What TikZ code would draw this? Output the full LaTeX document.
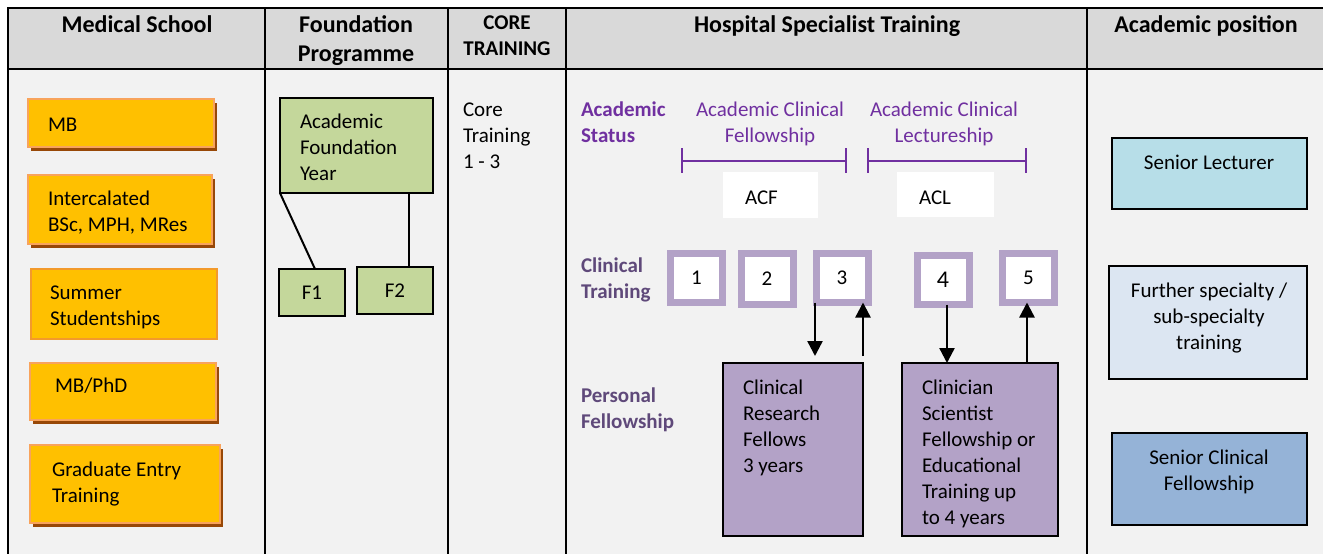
\documentclass[tikz,border=0pt]{standalone}
\usepackage{fontspec}
\setmainfont{Carlito}
\usetikzlibrary{arrows.meta,shadows}
\definecolor{hdr}{HTML}{D9D9D9}
\definecolor{bodyc}{HTML}{F2F2F2}
\definecolor{orangef}{HTML}{FFC000}
\definecolor{orangeb}{HTML}{F8A35C}
\definecolor{orangebb}{HTML}{F39A2B}
\definecolor{shadowc}{HTML}{984807}
\definecolor{greenf}{HTML}{C4D79B}
\definecolor{purpt}{HTML}{7030A0}
\definecolor{purpg}{HTML}{5F497A}
\definecolor{lilac}{HTML}{B3A2C7}
\definecolor{bluea}{HTML}{B7DEE8}
\definecolor{blueb}{HTML}{DCE6F2}
\definecolor{bluec}{HTML}{95B3D7}
\newcommand\bodyfont{\fontsize{21}{26}\selectfont}
\newcommand\headfont{\fontsize{24}{29.5}\selectfont\bfseries}
\newcommand\mlines[1]{\begin{tabular}[t]{@{}l@{}}#1\end{tabular}}
\newcommand\mcent[1]{\begin{tabular}[t]{@{}c@{}}#1\end{tabular}}
\begin{document}
\begin{tikzpicture}[x=1pt,y=-1pt,
  grid/.style={line width=2.2pt,black},
  txt/.style={inner sep=0pt,outer sep=0pt,font=\bodyfont,text=black},
  head/.style={inner sep=0pt,outer sep=0pt,font=\headfont,text=black,anchor=base},
  lab/.style={inner sep=0pt,outer sep=0pt,font=\bodyfont\bfseries,anchor=base west},
  obox/.style={rectangle,inner sep=0pt,outer sep=0pt,fill=orangef,draw=orangeb,line width=2.5pt},
  oshadow/.style={drop shadow={shadow xshift=3pt,shadow yshift=-4pt,fill=shadowc,opacity=1}},
  gbox/.style={rectangle,inner sep=0pt,outer sep=0pt,fill=greenf,draw=black,line width=2pt,font=\bodyfont},
  wbox/.style={rectangle,inner sep=0pt,outer sep=0pt,fill=white},
  pbox/.style={rectangle,inner sep=0pt,outer sep=0pt,fill=lilac,draw=black,line width=2pt},
  rbox/.style={rectangle,inner sep=0pt,outer sep=0pt,draw=black,line width=2pt},
  sq/.style={rectangle,inner sep=0pt,outer sep=0pt,draw=lilac,line width=7pt,fill=white,
    minimum width=52pt,minimum height=49pt,font=\bodyfont},
  conn/.style={line width=2pt,black},
  arr/.style={line width=2.4pt,black,-{Triangle[width=15pt,length=15pt]}},
  brk/.style={line width=2pt,purpt}]
\useasboundingbox (0,0) rectangle (1323,554);
\fill[white] (0,0) rectangle (1323,554);
\clip (0,0) rectangle (1323,554);
% table
\fill[bodyc] (8,69) rectangle (1340,570);
\fill[hdr] (8,8) rectangle (1340,69);
\draw[grid] (1340,8) -- (8,8) -- (8,570);
\draw[grid] (8,69) -- (1340,69);
\foreach \xx in {265,448,566,1087}{\draw[grid] (\xx,8) -- (\xx,570);}
% headers
\node[head] (h1) at (137,32) {Medical School};
\node[head] (h2) at (356,32) {\mcent{Foundation\\Programme}};
\node[head,font=\bodyfont\bfseries] (h3) at (507,29) {\mcent{CORE\\TRAINING}};
\node[head] (h4) at (827,32) {Hospital Specialist Training};
\node[head] (h5) at (1206,32) {Academic position};
% medical school
\node[obox,oshadow,minimum width=186pt,minimum height=48pt] (mb) at (121,123) {};
\node[obox,oshadow,minimum width=184pt,minimum height=69pt] (ic) at (120,209.5) {};
\node[obox,draw=orangebb,minimum width=186pt,minimum height=70pt] (ss) at (124,304) {};
\node[obox,oshadow,minimum width=186pt,minimum height=57pt] (pd) at (123,391.5) {};
\node[obox,oshadow,minimum width=190pt,minimum height=78pt] (ge) at (125,484) {};
\node[txt,anchor=base west] (mbt) at (48,131) {MB};
\node[txt,anchor=base west] (ict) at (48,205) {\mlines{Intercalated\\BSc, MPH, MRes}};
\node[txt,anchor=base west] (sst) at (50,299) {\mlines{Summer\\Studentships}};
\node[txt,anchor=base west] (pdt) at (55,392) {MB/PhD};
\node[txt,anchor=base west] (get) at (52,476) {\mlines{Graduate Entry\\Training}};
% foundation
\node[gbox,minimum width=153pt,minimum height=95pt] (afy) at (356.5,145.5) {};
\node[txt,anchor=base west] (afyt) at (300,128) {\mlines{Academic\\Foundation\\Year}};
\node[gbox,minimum width=66pt,minimum height=47pt] (f1) at (312,292.5) {F1};
\node[gbox,minimum width=76pt,minimum height=47pt] (f2) at (395,290.5) {F2};
\coordinate (c1) at (315,0);
\coordinate (c2) at (409,0);
\draw[conn] (afy.south west) -- (f1.north -| c1);
\draw[conn] (afy.south -| c2) -- (f2.north -| c2);
% core
\node[txt,anchor=base west] (core) at (463,116) {\mlines{Core\\Training\\1 - 3}};
% hospital
\node[lab,text=purpt] (ast) at (581,116) {\mlines{Academic\\Status}};
\node[lab,text=purpg] (ctr) at (581,272) {\mlines{Clinical\\Training}};
\node[lab,text=purpg] (pfl) at (581,402) {\mlines{Personal\\Fellowship}};
\node[txt,text=purpt,anchor=base] (acfl) at (770,116) {\mcent{Academic Clinical\\Fellowship}};
\node[txt,text=purpt,anchor=base] (acll) at (944,116) {\mcent{Academic Clinical\\Lectureship}};
\draw[brk] (682,161) -- (846,161);
\draw[brk] (682,148) -- (682,173);
\draw[brk] (846,148) -- (846,173);
\draw[brk] (868,161) -- (1026,161);
\draw[brk] (868,148) -- (868,173);
\draw[brk] (1026,148) -- (1026,173);
\node[wbox,minimum width=95pt,minimum height=46pt] (acf) at (770.5,195) {};
\node[wbox,minimum width=97pt,minimum height=45pt] (acl) at (945.5,194.5) {};
\node[txt,anchor=base west] (acft) at (745,204) {ACF};
\node[txt,anchor=base west] (aclt) at (919,204) {ACL};
\node[sq] (sq1) at (696.5,278) {1};
\node[sq,minimum height=51pt] (sq2) at (767,279) {2};
\node[sq] (sq3) at (842,278) {3};
\node[sq,font=\fontsize{24}{29}\selectfont] (sq4) at (943,280) {\raisebox{-4pt}{4}};
\node[sq] (sq5) at (1028.5,278) {5};
\node[pbox,minimum width=140pt,minimum height=173pt] (crf) at (793,449.5) {};
\node[pbox,minimum width=156pt,minimum height=173pt] (cs) at (980,449.5) {};
\node[txt,anchor=base west] (crft) at (743,394) {\mlines{Clinical\\Research\\Fellows\\3 years}};
\node[txt,anchor=base west] (cst) at (922,394) {\mlines{Clinician\\Scientist\\Fellowship or\\Educational\\Training up\\to 4 years}};
\coordinate (d3) at (815,356);
\coordinate (u3) at (863,356);
\coordinate (d4) at (947,0);
\coordinate (u5) at (1027,0);
\draw[arr] (sq3.south -| d3) -- (d3);
\draw[arr] (u3) -- (sq3.south -| u3);
\draw[arr] (sq4.south -| d4) -- (cs.north -| d4);
\draw[arr] (cs.north -| u5) -- (sq5.south -| u5);
% academic position
\node[rbox,fill=bluea,minimum width=195pt,minimum height=71pt] (sl) at (1209.5,173.5) {};
\node[rbox,fill=blueb,minimum width=198pt,minimum height=113pt] (fs) at (1208,322.5) {};
\node[rbox,fill=bluec,minimum width=195pt,minimum height=92pt] (scf) at (1209.5,479) {};
\node[txt,anchor=base] (slt) at (1209,169) {Senior Lecturer};
\node[txt,anchor=base] (fst) at (1209,297) {\mcent{Further specialty /\\sub-specialty\\training}};
\node[txt,anchor=base] (scft) at (1209,464) {\mcent{Senior Clinical\\Fellowship}};
\end{tikzpicture}
\end{document}
